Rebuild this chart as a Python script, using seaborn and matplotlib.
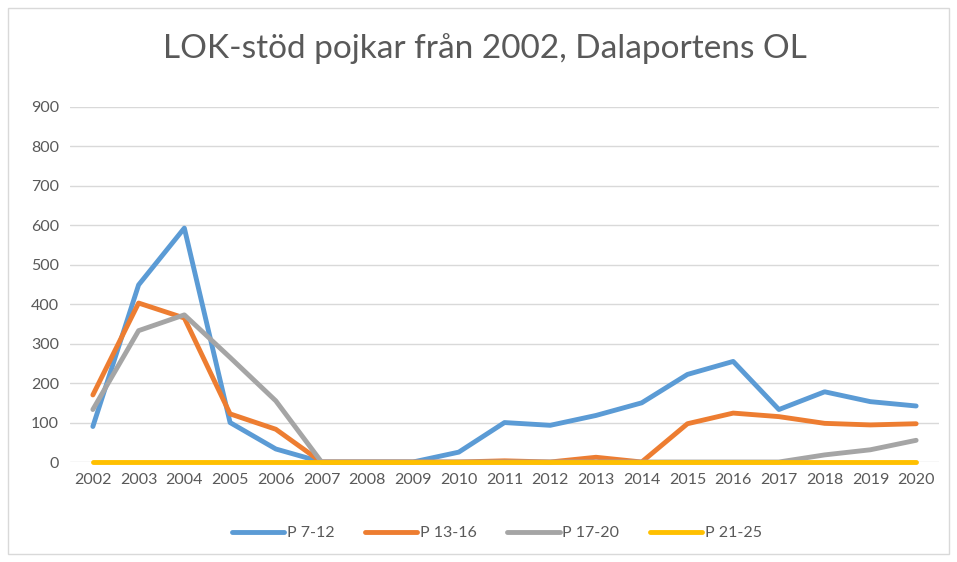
import numpy as np
import pandas as pd
import matplotlib
matplotlib.use('Agg')
import matplotlib.pyplot as plt
import seaborn as sns

# data
years = list(range(2002, 2021))
p7_12 = [90, 449, 593, 100, 33, 0, 0, 0, 25, 100, 93, 118, 150, 222, 255, 133, 178, 153, 142]
p13_16 = [170, 403, 365, 122, 83, 0, 0, 0, 0, 3, 0, 12, 0, 97, 124, 115, 98, 94, 97]
p17_20 = [133, 333, 373, 265, 155, 0, 0, 0, 0, 0, 0, 0, 0, 0, 0, 0, 18, 31, 55]
p21_25 = [0] * 19
series_names = ['P 7-12', 'P 13-16', 'P 17-20', 'P 21-25']
colors = ['#5B9BD5', '#ED7D31', '#A5A5A5', '#FFC000']

df = pd.DataFrame({'year': [str(y) for y in years],
                   'P 7-12': p7_12, 'P 13-16': p13_16,
                   'P 17-20': p17_20, 'P 21-25': p21_25})
long = df.melt(id_vars='year', var_name='serie', value_name='value')

sns.set_style('white')
plt.rcParams['font.family'] = ['Lato', 'DejaVu Sans']

fig = plt.figure(figsize=(9.57, 5.62), dpi=100)
ax = fig.add_axes([70 / 957, 1 - 462 / 562, 869 / 957, 355 / 562])

sns.lineplot(data=long, x='year', y='value', hue='serie', hue_order=series_names,
             palette=colors, linewidth=3.5, sort=False, ax=ax, legend=False,
             solid_capstyle='round', solid_joinstyle='round', clip_on=False)

ax.set_xlim(-0.5, len(years) - 0.5)
ax.set_ylim(0, 900)
ax.set_yticks(range(0, 1000, 100))
ax.grid(axis='y', color='#D9D9D9', linewidth=1)
ax.set_axisbelow(True)
for s in ax.spines.values():
    s.set_visible(False)
ax.tick_params(axis='both', length=0, labelsize=11.5, colors='#595959', pad=8)
ax.set_xlabel('')
ax.set_ylabel('')

fig.text(0.507, 1 - 49 / 562, 'LOK-stöd pojkar från 2002, Dalaportens OL',
         ha='center', va='center', fontsize=24, color='#595959')

handles = [plt.Line2D([0], [0], color=c, linewidth=3.5, solid_capstyle='round') for c in colors]
fig.legend(handles, series_names, loc='center', bbox_to_anchor=(0.519, 1 - 533 / 562),
           ncol=4, frameon=False, fontsize=11.5, handlelength=3.3, columnspacing=1.9,
           handletextpad=0.15, labelcolor='#595959')

# light border around the chart area
fig.patches.append(plt.Rectangle((8 / 957, 8 / 562), 1 - 16 / 957, 1 - 16 / 562,
                                 transform=fig.transFigure, fill=False,
                                 edgecolor='#D9D9D9', linewidth=1))

fig.savefig('out.png', dpi=100)
